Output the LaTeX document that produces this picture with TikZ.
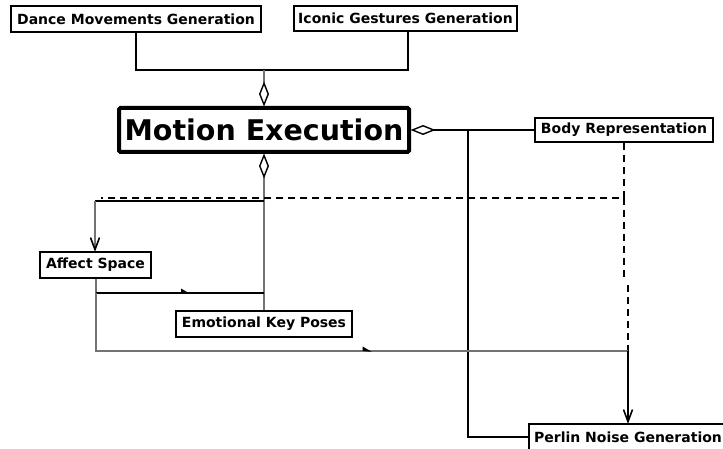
\documentclass[tikz,border=0pt]{standalone}
\usepackage{fontspec}
\setmainfont{DejaVu Sans}
\usetikzlibrary{arrows.meta,decorations.markings}
\tikzset{
  box/.style={draw, line width=1.3pt, fill=white, inner sep=0pt, font=\fontsize{14}{15}\selectfont\bfseries},
  bigbox/.style={draw, line width=4pt, rounded corners=1.5pt, fill=white, inner sep=0pt, font=\fontsize{28.5}{30}\selectfont\bfseries},
  blk/.style={line width=2pt, black},
  gry/.style={line width=1.2pt, black!55},
  dsh/.style={line width=2pt, black, dash pattern=on 7pt off 5pt},
  agg/.style={-{Diamond[open, length=25pt, width=10pt, line width=1.4pt, color=black]}, shorten >=-0.5pt},
  vee/.style={-{Straight Barb[length=12pt, width=9pt, line width=1.6pt, color=black]}, shorten >=-0.5pt},
  midmark/.style={postaction={decorate, decoration={markings,
     mark=at position #1 with {\fill[black] (-4pt,0) -- (5pt,-0.8pt) -- (-4pt,4.5pt) -- cycle;}}}}
}
\begin{document}
\begin{tikzpicture}[x=1pt,y=-1pt]
\useasboundingbox (0,0) rectangle (723,449);
\fill[white] (0,0) rectangle (723,449);
% nodes
\node[box, minimum width=250pt, minimum height=26pt] (dance) at (136,19) {Dance Movements Generation};
\node[box, minimum width=223pt, minimum height=25pt] (iconic) at (405.5,18.5) {Iconic Gestures Generation};
\node[bigbox, minimum width=290pt, minimum height=44pt] (motion) at (264,130) {Motion Execution};
\node[box, minimum width=178pt, minimum height=24pt] (body) at (624,130) {Body Representation};
\node[box, minimum width=111pt, minimum height=26pt] (affect) at (95.5,265) {Affect Space};
\node[box, minimum width=176pt, minimum height=26pt] (emo) at (264,324) {Emotional Key Poses};
\node[box, minimum width=198pt, minimum height=26pt] (perlin) at (628,437) {Perlin Noise Generation};
% coordinates
\coordinate (topj) at (264,70);
\coordinate (midj) at (264,201);
\coordinate (affj) at (264,293);
\coordinate (botj) at (628,351);
\coordinate (dashend) at (101,198);
% connectors
\draw[blk] (dance.south) -- (136,70) -- (408,70) -- (iconic.south -| 408,31);
\draw[gry, agg] (topj) -- (motion.north);
\draw[gry, agg] (emo.north) -- (motion.south);
\draw[blk, agg] (body.west) -- (motion.east);
\draw[blk] (468,130) -- (468,437) -- (perlin.west);
\draw[dsh] (body.south -| 624,143) -- (624,198) -- (dashend);
\draw[dsh] (624,198) -- (624,280);
\draw[dsh] (628,285) -- (botj);
\draw[blk] (midj) -- (95,201);
\draw[gry, vee] (95,201) -- (affect.north -| 95,252);
\draw[gry] (affect.south -| 96,278) -- (96,293);
\draw[blk, midmark=0.53] (96,293) -- (affj);
\draw[gry, midmark=0.557] (96,293) -- (96,351) -- (botj);
\draw[blk, vee] (botj) -- (perlin.north);
\end{tikzpicture}
\end{document}
